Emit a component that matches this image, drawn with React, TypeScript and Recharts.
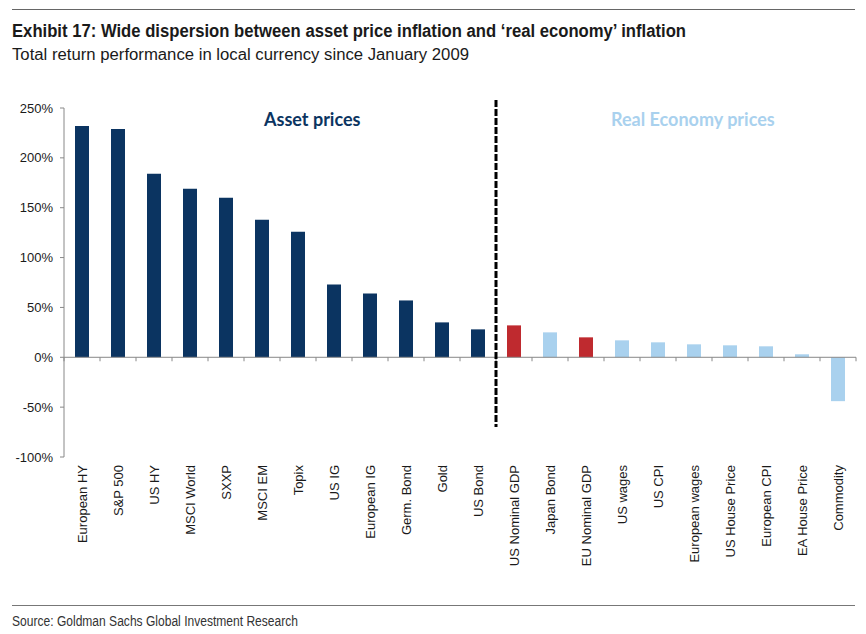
import { BarChart, Bar, Cell, XAxis, YAxis, ReferenceLine } from "recharts"

const categories = [
  "European HY", "S&P 500", "US HY", "MSCI World", "SXXP", "MSCI EM", "Topix", "US IG",
  "European IG", "Germ. Bond", "Gold", "US Bond",
  "US Nominal GDP", "Japan Bond", "EU Nominal GDP", "US wages", "US CPI", "European wages",
  "US House Price", "European CPI", "EA House Price", "Commodity",
]
const returns = [232, 229, 184, 169, 160, 138, 126, 73, 64, 57, 35, 28, 32, 25, 20, 17, 15, 13, 12, 11, 3, -44]
const assetItems = categories.slice(0, 12)
const gdpItems = ["US Nominal GDP", "EU Nominal GDP"]
const yTicks = [-100, -50, 0, 50, 100, 150, 200, 250]

const data = categories.map((name, i) => ({ name, value: returns[i] }))

const NAVY = "#0B3461"
const RED = "#BF2A2F"
const LIGHT = "#A9D1EE"
const SANS = "'Liberation Sans', Arial, sans-serif"

const colorFor = (name: string) =>
  assetItems.includes(name) ? NAVY : gdpItems.includes(name) ? RED : LIGHT

const XTick = ({ x, y, payload }: any) => (
  <text
    x={x}
    y={y}
    transform={`rotate(-90, ${x}, ${y})`}
    textAnchor="end"
    dominantBaseline="central"
    fontSize={13}
    fontFamily={SANS}
    fill="#1a1a1a"
  >
    {payload.value}
  </text>
)

export default function App() {
  return (
    <div style={{ position: "relative", width: 866, height: 634, margin: -8, background: "#fff", overflow: "hidden" }}>
      {/* titles and source, squeezed like the condensed face of the original */}
      <svg width={866} height={634} style={{ position: "absolute", left: 0, top: 0 }}>
        <line x1={12} x2={855} y1={9.5} y2={9.5} stroke="#666" />
        <text x={12} y={37} fontFamily={SANS} fontWeight="bold" fontSize={18} fill="#1a1a1a"
          textLength={674} lengthAdjust="spacingAndGlyphs">
          Exhibit 17: Wide dispersion between asset price inflation and ‘real economy’ inflation
        </text>
        <text x={12} y={60} fontFamily={SANS} fontSize={16} fill="#1a1a1a"
          textLength={457} lengthAdjust="spacingAndGlyphs">
          Total return performance in local currency since January 2009
        </text>
        <line x1={12} x2={855} y1={605.5} y2={605.5} stroke="#777" />
        <text x={12} y={626} fontFamily={SANS} fontSize={14} fill="#333"
          textLength={286} lengthAdjust="spacingAndGlyphs">
          Source: Goldman Sachs Global Investment Research
        </text>
      </svg>

      <div style={{ position: "absolute", left: 0, top: 0 }}>
        <BarChart width={866} height={634} data={data} margin={{ top: 108, right: 10, bottom: 57, left: 0 }}>
          <YAxis
            domain={[-100, 250]}
            ticks={yTicks}
            tickFormatter={(v) => `${v}%`}
            width={64}
            tickSize={4}
            tickMargin={7}
            axisLine={{ stroke: "#888" }}
            tickLine={{ stroke: "#888" }}
            tick={{ fontSize: 13, fill: "#1a1a1a", fontFamily: SANS }}
          />
          <XAxis
            dataKey="name"
            interval={0}
            height={120}
            axisLine={false}
            tickLine={false}
            tickSize={0}
            tickMargin={8}
            tick={<XTick />}
          />
          <ReferenceLine y={0} stroke="#888" ifOverflow="visible" />
          {categories.map((c) => (
            <ReferenceLine
              key={c}
              segment={[{ x: c, y: 0 }, { x: c, y: -4 }]}
              position="start"
              stroke="#888"
              ifOverflow="visible"
            />
          ))}
          <ReferenceLine
            segment={[{ x: categories[categories.length - 1], y: 0 }, { x: categories[categories.length - 1], y: -4 }]}
            position="end"
            stroke="#888"
            ifOverflow="visible"
          />
          <Bar dataKey="value" barSize={14} isAnimationActive={false}>
            {data.map((d) => (
              <Cell key={d.name} fill={colorFor(d.name)} />
            ))}
          </Bar>
          <ReferenceLine
            segment={[{ x: "US Nominal GDP", y: 258 }, { x: "US Nominal GDP", y: -70 }]}
            position="start"
            stroke="#000"
            strokeWidth={3}
            strokeDasharray="7 2"
            ifOverflow="visible"
          />
        </BarChart>
      </div>

      <div style={{ position: "absolute", left: 264, top: 108, fontFamily: "Lato, sans-serif", fontWeight: "bold", fontSize: 18, color: NAVY, whiteSpace: "nowrap" }}>
        Asset prices
      </div>
      <div style={{ position: "absolute", left: 611, top: 108, fontFamily: "Lato, sans-serif", fontWeight: "bold", fontSize: 18, color: LIGHT, whiteSpace: "nowrap" }}>
        Real Economy prices
      </div>
    </div>
  )
}
